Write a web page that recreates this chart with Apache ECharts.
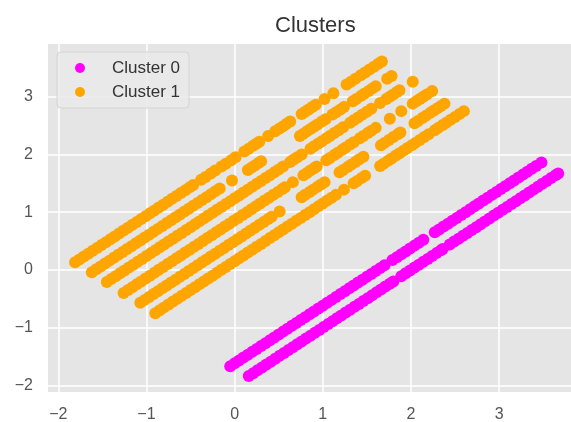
<!DOCTYPE html>
<html>
<head>
<meta charset="utf-8">
<title>Clusters</title>
<script src="https://cdn.jsdelivr.net/npm/echarts@6.0.0/dist/echarts.min.js"></script>
<style>
  html, body { margin: 0; padding: 0; background: #fff; }
  #chart { width: 571px; height: 422px; }
</style>
</head>
<body>
<div id="chart"></div>
<script>
// points, one list per visible stripe

// Cluster 0 (magenta)
const cluster0Upper = [
  [-0.05,-1.67],[0.00,-1.62],[0.05,-1.57],[0.10,-1.52],[0.15,-1.47],[0.20,-1.42],[0.25,-1.37],[0.30,-1.32],
  [0.35,-1.27],[0.40,-1.22],[0.45,-1.17],[0.50,-1.12],[0.55,-1.07],[0.60,-1.02],[0.65,-0.97],[0.70,-0.92],
  [0.75,-0.87],[0.80,-0.82],[0.85,-0.77],[0.90,-0.72],[0.95,-0.67],[1.00,-0.62],[1.05,-0.57],[1.10,-0.52],
  [1.15,-0.47],[1.20,-0.42],[1.25,-0.37],[1.30,-0.32],[1.35,-0.27],[1.40,-0.22],[1.45,-0.17],[1.50,-0.12],
  [1.55,-0.07],[1.60,-0.02],[1.65,0.03],[1.70,0.08],
  [1.79,0.17],[1.84,0.22],[1.89,0.27],[1.94,0.32],[1.99,0.37],[2.04,0.42],[2.09,0.47],[2.14,0.52],
  [2.27,0.65],[2.32,0.70],[2.37,0.75],[2.42,0.80],[2.47,0.85],[2.52,0.90],[2.57,0.95],[2.62,1.00],
  [2.67,1.05],[2.72,1.10],[2.77,1.15],[2.82,1.20],[2.87,1.25],[2.92,1.30],[2.97,1.35],[3.02,1.40],
  [3.07,1.45],[3.12,1.50],[3.17,1.55],[3.22,1.60],[3.27,1.65],[3.32,1.70],[3.37,1.75],[3.42,1.80],[3.48,1.86]
];
const cluster0Lower = [
  [0.16,-1.84],[0.21,-1.79],[0.26,-1.74],[0.31,-1.69],[0.36,-1.64],[0.41,-1.59],[0.46,-1.54],[0.51,-1.49],
  [0.56,-1.44],[0.61,-1.39],[0.66,-1.34],[0.71,-1.29],[0.76,-1.24],[0.81,-1.19],[0.86,-1.14],[0.91,-1.09],
  [0.96,-1.04],[1.01,-0.99],[1.06,-0.94],[1.11,-0.89],[1.16,-0.84],[1.21,-0.79],[1.26,-0.74],[1.31,-0.69],
  [1.36,-0.64],[1.41,-0.59],[1.46,-0.54],[1.51,-0.49],[1.56,-0.44],[1.61,-0.39],[1.66,-0.34],[1.71,-0.29],
  [1.76,-0.24],[1.80,-0.20],
  [1.89,-0.11],[1.94,-0.06],[1.99,-0.01],[2.04,0.04],[2.09,0.09],[2.14,0.14],[2.19,0.19],[2.24,0.24],
  [2.29,0.29],[2.34,0.34],[2.36,0.36],
  [2.44,0.44],[2.49,0.49],[2.54,0.54],[2.59,0.59],[2.64,0.64],[2.69,0.69],[2.74,0.74],[2.79,0.79],
  [2.84,0.84],[2.89,0.89],[2.94,0.94],[2.99,0.99],[3.04,1.04],[3.09,1.09],[3.14,1.14],[3.19,1.19],
  [3.24,1.24],[3.29,1.29],[3.34,1.34],[3.39,1.39],[3.44,1.44],[3.49,1.49],[3.54,1.54],[3.59,1.59],
  [3.64,1.64],[3.67,1.67]
];

// Cluster 1 (orange), six stripes from top to bottom
const cluster1A = [
  [-1.81,0.13],[-1.76,0.18],[-1.71,0.23],[-1.66,0.28],[-1.61,0.33],[-1.56,0.38],[-1.51,0.43],[-1.46,0.48],
  [-1.41,0.53],[-1.36,0.58],[-1.31,0.63],[-1.26,0.68],[-1.21,0.73],[-1.16,0.78],[-1.11,0.83],[-1.06,0.88],
  [-1.01,0.93],[-0.96,0.98],[-0.91,1.03],[-0.86,1.08],[-0.81,1.13],[-0.76,1.18],[-0.71,1.23],[-0.66,1.28],
  [-0.61,1.33],[-0.56,1.38],[-0.51,1.43],[-0.47,1.47],
  [-0.38,1.56],[-0.33,1.61],[-0.27,1.67],[-0.22,1.72],[-0.15,1.79],[-0.10,1.84],[-0.04,1.90],[0.01,1.95],
  [0.11,2.05],[0.16,2.10],[0.21,2.15],[0.25,2.19],[0.28,2.22],
  [0.38,2.32],
  [0.46,2.40],[0.51,2.45],[0.55,2.49],[0.59,2.53],[0.63,2.57],
  [0.76,2.70],[0.80,2.74],[0.84,2.78],[0.88,2.82],[0.92,2.86],
  [1.02,2.96],[1.12,3.06],
  [1.27,3.21],[1.32,3.26],[1.37,3.31],
  [1.43,3.37],[1.48,3.42],[1.53,3.47],[1.58,3.52],[1.63,3.57],[1.67,3.61]
];
const cluster1B = [
  [-1.62,-0.04],[-1.57,0.01],[-1.52,0.06],[-1.47,0.11],[-1.42,0.16],[-1.37,0.21],[-1.32,0.26],[-1.27,0.31],
  [-1.22,0.36],[-1.17,0.41],[-1.12,0.46],[-1.07,0.51],[-1.02,0.56],[-0.97,0.61],[-0.92,0.66],[-0.87,0.71],
  [-0.82,0.76],[-0.77,0.81],[-0.72,0.86],[-0.67,0.91],[-0.62,0.96],[-0.57,1.01],[-0.52,1.06],[-0.47,1.11],
  [-0.42,1.16],[-0.37,1.21],[-0.32,1.26],[-0.27,1.31],[-0.22,1.36],[-0.17,1.41],
  [-0.03,1.55],
  [0.15,1.73],[0.19,1.77],[0.23,1.81],[0.27,1.85],[0.30,1.88],
  [0.74,2.32],[0.78,2.36],[0.82,2.40],[0.86,2.44],[0.90,2.48],[0.94,2.52],[0.99,2.57],[1.03,2.61],
  [1.11,2.69],[1.15,2.73],[1.20,2.78],[1.24,2.82],
  [1.34,2.92],[1.38,2.96],[1.43,3.01],[1.47,3.05],[1.52,3.10],[1.56,3.14],[1.60,3.18],
  [1.73,3.31],[1.78,3.36]
];
const cluster1C = [
  [-1.45,-0.21],[-1.40,-0.16],[-1.35,-0.11],[-1.30,-0.06],[-1.25,-0.01],[-1.20,0.04],[-1.15,0.09],[-1.10,0.14],
  [-1.05,0.19],[-1.00,0.24],[-0.95,0.29],[-0.90,0.34],[-0.85,0.39],[-0.80,0.44],[-0.75,0.49],[-0.70,0.54],
  [-0.65,0.59],[-0.60,0.64],[-0.55,0.69],[-0.50,0.74],[-0.45,0.79],[-0.40,0.84],[-0.35,0.89],[-0.30,0.94],
  [-0.25,0.99],[-0.20,1.04],[-0.15,1.09],[-0.10,1.14],[-0.05,1.19],[0.00,1.24],[0.05,1.29],[0.10,1.34],
  [0.15,1.39],[0.20,1.44],[0.25,1.49],[0.30,1.54],[0.35,1.59],[0.40,1.64],[0.45,1.69],[0.50,1.74],[0.55,1.79],
  [0.63,1.87],[0.67,1.91],[0.71,1.95],[0.76,2.00],
  [0.86,2.10],[0.90,2.14],[0.95,2.19],[0.99,2.23],[1.04,2.28],[1.08,2.32],[1.13,2.37],[1.18,2.42],[1.23,2.47],
  [1.31,2.55],[1.35,2.59],[1.40,2.64],[1.45,2.69],[1.50,2.74],[1.55,2.79],
  [1.65,2.89],
  [1.72,2.96],[1.76,3.00],[1.80,3.04],[1.84,3.08],[1.87,3.11],
  [2.02,3.26]
];
const cluster1D = [
  [-1.26,-0.40],[-1.21,-0.35],[-1.16,-0.30],[-1.11,-0.25],[-1.06,-0.20],[-1.01,-0.15],[-0.96,-0.10],[-0.91,-0.05],
  [-0.86,0.00],[-0.81,0.05],[-0.76,0.10],[-0.71,0.15],[-0.66,0.20],[-0.61,0.25],[-0.56,0.30],[-0.51,0.35],
  [-0.46,0.40],[-0.41,0.45],[-0.36,0.50],[-0.31,0.55],[-0.26,0.60],[-0.21,0.65],[-0.16,0.70],[-0.11,0.75],
  [-0.06,0.80],[-0.01,0.85],[0.04,0.90],[0.09,0.95],[0.14,1.00],[0.19,1.05],[0.24,1.10],[0.29,1.15],
  [0.34,1.20],[0.39,1.25],[0.44,1.30],[0.49,1.35],[0.54,1.40],[0.57,1.43],
  [0.66,1.52],
  [0.78,1.64],[0.82,1.68],[0.86,1.72],[0.90,1.76],[0.93,1.79],
  [1.04,1.90],[1.08,1.94],[1.13,1.99],[1.17,2.03],[1.22,2.08],[1.26,2.12],[1.31,2.17],[1.35,2.21],
  [1.42,2.28],[1.46,2.32],[1.51,2.37],[1.55,2.41],[1.60,2.46],
  [1.76,2.62],[1.89,2.75],
  [2.02,2.88],[2.06,2.92],[2.10,2.96],[2.14,3.00],[2.18,3.04],
  [2.24,3.10]
];
const cluster1E = [
  [-1.07,-0.57],[-1.02,-0.52],[-0.97,-0.47],[-0.92,-0.42],[-0.87,-0.37],[-0.82,-0.32],[-0.77,-0.27],[-0.72,-0.22],
  [-0.67,-0.17],[-0.62,-0.12],[-0.57,-0.07],[-0.52,-0.02],[-0.47,0.03],[-0.42,0.08],[-0.37,0.13],[-0.32,0.18],
  [-0.27,0.23],[-0.22,0.28],[-0.17,0.33],[-0.12,0.38],[-0.07,0.43],[-0.02,0.48],[0.03,0.53],[0.08,0.58],
  [0.13,0.63],[0.18,0.68],[0.23,0.73],[0.28,0.78],[0.33,0.83],[0.38,0.88],[0.42,0.92],
  [0.51,1.01],
  [0.76,1.26],[0.80,1.30],[0.85,1.35],[0.89,1.39],[0.94,1.44],[0.98,1.48],[1.02,1.52],
  [1.19,1.69],[1.23,1.73],[1.28,1.78],[1.32,1.82],[1.37,1.87],[1.41,1.91],[1.46,1.96],
  [1.66,2.16],[1.70,2.20],[1.75,2.25],[1.80,2.30],[1.85,2.35],[1.88,2.38],
  [2.04,2.54],[2.08,2.58],[2.13,2.63],[2.17,2.67],[2.22,2.72],[2.26,2.76],[2.30,2.80],[2.34,2.84],[2.38,2.88]
];
const cluster1F = [
  [-0.90,-0.75],[-0.85,-0.70],[-0.80,-0.65],[-0.75,-0.60],[-0.70,-0.55],[-0.65,-0.50],[-0.60,-0.45],[-0.55,-0.40],
  [-0.50,-0.35],[-0.45,-0.30],[-0.40,-0.25],[-0.35,-0.20],[-0.30,-0.15],[-0.25,-0.10],[-0.20,-0.05],[-0.15,0.00],
  [-0.10,0.05],[-0.05,0.10],[0.00,0.15],[0.05,0.20],[0.10,0.25],[0.15,0.30],[0.20,0.35],[0.25,0.40],
  [0.30,0.45],[0.35,0.50],[0.40,0.55],[0.45,0.60],[0.50,0.65],[0.55,0.70],[0.60,0.75],[0.65,0.80],
  [0.70,0.85],[0.75,0.90],[0.80,0.95],[0.85,1.00],[0.90,1.05],[0.95,1.10],[1.00,1.15],[1.05,1.20],
  [1.10,1.25],[1.15,1.30],
  [1.24,1.39],
  [1.35,1.50],[1.39,1.54],[1.44,1.59],[1.48,1.63],
  [1.65,1.80],[1.69,1.84],[1.74,1.89],[1.78,1.93],[1.83,1.98],[1.87,2.02],[1.92,2.07],[1.96,2.11],
  [2.01,2.16],[2.05,2.20],[2.10,2.25],[2.15,2.30],[2.20,2.35],
  [2.27,2.42],[2.31,2.46],[2.36,2.51],[2.40,2.55],[2.45,2.60],[2.50,2.65],[2.55,2.70],[2.60,2.75]
];

const seriesNames = ['Cluster 0', 'Cluster 1'];
const seriesColors = ['#FF00FF', '#FFA500'];

const chart = echarts.init(document.getElementById('chart'), null, { renderer: 'canvas' });

// tick labels: only whole numbers, with a real minus sign
const tickLabel = (v) => Number.isInteger(v) ? String(v).replace('-', '\u2212') : '';

const option = {
  animation: false,
  backgroundColor: '#ffffff',
  title: {
    text: 'Clusters',
    left: 270,
    top: 10,
    textStyle: {
      fontFamily: 'Liberation Sans, Arial, sans-serif',
      fontSize: 22,
      fontWeight: 'normal',
      color: '#333333'
    }
  },
  legend: {
    data: seriesNames,
    orient: 'vertical',
    left: 57,
    top: 52,
    padding: [6, 9, 6, 18],
    itemGap: 4,
    itemWidth: 10,
    itemHeight: 10,
    icon: 'circle',
    backgroundColor: 'rgba(234,234,234,0.85)',
    borderColor: '#d4d4d4',
    borderWidth: 1,
    borderRadius: 4,
    textStyle: {
      fontFamily: 'Liberation Sans, Arial, sans-serif',
      fontSize: 17,
      lineHeight: 20,
      color: '#333333',
      padding: [0, 0, 0, 22]
    }
  },
  grid: {
    left: 48,
    right: -11,
    top: 44,
    bottom: 30,
    outerBoundsMode: 'none',
    containLabel: false,
    show: true,
    backgroundColor: '#E5E5E5',
    borderWidth: 0
  },
  xAxis: {
    type: 'value',
    min: -2.117,
    max: 3.94,
    splitNumber: 5,
    axisLine: { show: false },
    axisTick: { show: false },
    axisLabel: {
      formatter: tickLabel,
      margin: 15,
      color: '#555555',
      fontSize: 16,
      fontFamily: 'Liberation Sans, Arial, sans-serif'
    },
    splitLine: {
      show: true,
      showMinLine: false,
      showMaxLine: false,
      lineStyle: { color: '#ffffff', width: 1.5 }
    }
  },
  yAxis: {
    type: 'value',
    min: -2.116,
    max: 3.913,
    splitNumber: 5,
    axisLine: { show: false },
    axisTick: { show: false },
    axisLabel: {
      formatter: tickLabel,
      margin: 15,
      color: '#555555',
      fontSize: 16,
      fontFamily: 'Liberation Sans, Arial, sans-serif'
    },
    splitLine: {
      show: true,
      showMinLine: false,
      showMaxLine: false,
      lineStyle: { color: '#ffffff', width: 1.5 }
    }
  },
  series: [
    {
      name: seriesNames[0],
      type: 'scatter',
      symbol: 'circle',
      symbolSize: 12,
      itemStyle: { color: seriesColors[0], opacity: 1 },
      data: cluster0Upper.concat(cluster0Lower)
    },
    {
      name: seriesNames[1],
      type: 'scatter',
      symbol: 'circle',
      symbolSize: 12,
      itemStyle: { color: seriesColors[1], opacity: 1 },
      data: cluster1A.concat(cluster1B, cluster1C, cluster1D, cluster1E, cluster1F)
    }
  ]
};

chart.setOption(option);
</script>
</body>
</html>
